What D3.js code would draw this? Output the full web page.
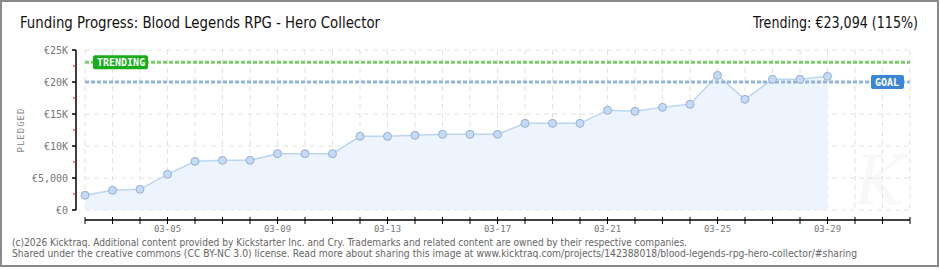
<!DOCTYPE html>
<html>
<head>
<meta charset="utf-8">
<script src="https://cdn.jsdelivr.net/npm/d3@7"></script>
<style>
  body { margin: 0; background: #fff; }
  svg { display: block; }
</style>
</head>
<body>
<div id="chart"></div>
<script>
// values
const days = ['03-02','03-03','03-04','03-05','03-06','03-07','03-08','03-09','03-10','03-11',
  '03-12','03-13','03-14','03-15','03-16','03-17','03-18','03-19','03-20','03-21',
  '03-22','03-23','03-24','03-25','03-26','03-27','03-28','03-29']
const pledged = [2300, 3080, 3230, 5570, 7600, 7760, 7760, 8800, 8800, 8800,
  11510, 11510, 11670, 11820, 11820, 11820, 13540, 13540, 13540, 15570,
  15420, 16040, 16510, 21040, 17290, 20420, 20420, 20880]
const axisDays = ['03-02','03-03','03-04','03-05','03-06','03-07','03-08','03-09','03-10','03-11',
  '03-12','03-13','03-14','03-15','03-16','03-17','03-18','03-19','03-20','03-21',
  '03-22','03-23','03-24','03-25','03-26','03-27','03-28','03-29','03-30','03-31','04-01']
const labelDays = ['03-05','03-09','03-13','03-17','03-21','03-25','03-29']
const yTicks = [0, 5000, 10000, 15000, 20000, 25000]
const yTickLabels = ['€0', '€5,000', '€10K', '€15K', '€20K', '€25K']
const goal = 20000
const trending = 23094

const W = 940, H = 270

const svg = d3.select('#chart').append('svg')
  .attr('width', W).attr('height', H)

// outer frame
svg.append('rect')
  .attr('x', 1).attr('y', 1).attr('width', 937).attr('height', 265)
  .attr('fill', '#fff').attr('stroke', '#8a8a8a').attr('stroke-width', 2)

const x = d3.scalePoint().domain(axisDays).range([85, 910])
const y = d3.scaleLinear().domain([0, 25000]).range([210, 50])

const pixFont = '"DejaVu Sans Mono", monospace'

// faint watermark
svg.append('text')
  .attr('x', 880).attr('y', 205)
  .attr('text-anchor', 'middle')
  .attr('font-family', '"DejaVu Serif", serif').attr('font-style', 'italic')
  .attr('font-size', 70).attr('fill', '#f8f8f8')
  .text('K')

// grid
const grid = svg.append('g').attr('class', 'grid')
grid.selectAll('line.h').data(yTicks).enter().append('line')
  .attr('x1', 85).attr('x2', 910)
  .attr('y1', d => y(d)).attr('y2', d => y(d))
  .attr('stroke', '#e2e2e2').attr('stroke-dasharray', '5 4')
grid.selectAll('line.v').data(axisDays).enter().append('line')
  .attr('x1', d => x(d)).attr('x2', d => x(d))
  .attr('y1', 50).attr('y2', 210)
  .attr('stroke', '#e2e2e2').attr('stroke-dasharray', '5 4')

// area + line
const pts = days.map((d, i) => [d, pledged[i]])
svg.append('path')
  .datum(pts)
  .attr('d', d3.area().x(d => x(d[0])).y0(y(0)).y1(d => y(d[1])))
  .attr('fill', '#edf4fd')
svg.append('path')
  .datum(pts)
  .attr('d', d3.line().x(d => x(d[0])).y(d => y(d[1])))
  .attr('fill', 'none').attr('stroke', '#bcd6f2').attr('stroke-width', 1.5)

// goal + trending lines
const refLine = (v, col) => svg.append('line')
  .attr('x1', 85).attr('x2', 910)
  .attr('y1', y(v)).attr('y2', y(v))
  .attr('stroke', col).attr('stroke-width', 3).attr('stroke-dasharray', '4 2')
refLine(goal, '#94b6de')
refLine(trending, '#7ccd6e')

// markers
svg.selectAll('circle.pt').data(pts).enter().append('circle')
  .attr('cx', d => x(d[0])).attr('cy', d => y(d[1])).attr('r', 4)
  .attr('fill', '#c3dbf6').attr('stroke', '#98b0cf').attr('stroke-width', 1)

// badges
const badge = (bx, v, w, col, txt) => {
  svg.append('rect')
    .attr('x', bx).attr('y', y(v) - 7).attr('width', w).attr('height', 14)
    .attr('rx', 2).attr('fill', col)
  svg.append('text')
    .attr('x', bx + 4).attr('y', y(v) + 4)
    .attr('font-family', pixFont).attr('font-size', 10).attr('font-weight', 'bold')
    .attr('fill', '#fff')
    .text(txt)
}
badge(93, trending, 55, '#19ad19', 'TRENDING')
badge(871, goal, 33, '#3b87d6', 'GOAL')

// y axis
const ya = svg.append('g')
ya.append('line').attr('x1', 76).attr('x2', 76).attr('y1', 50).attr('y2', 210)
  .attr('stroke', '#000').attr('stroke-width', 1.5)
ya.selectAll('line.maj').data(yTicks).enter().append('line')
  .attr('x1', 72).attr('x2', 76).attr('y1', d => y(d)).attr('y2', d => y(d))
  .attr('stroke', '#000').attr('stroke-width', 1.5)
ya.selectAll('line.min').data(yTicks.slice(0, -1)).enter().append('line')
  .attr('x1', 73).attr('x2', 76).attr('y1', d => y(d + 2500)).attr('y2', d => y(d + 2500))
  .attr('stroke', '#e00').attr('stroke-width', 1)
ya.selectAll('text').data(yTicks).enter().append('text')
  .attr('x', 68).attr('y', d => y(d) + 3.5)
  .attr('text-anchor', 'end')
  .attr('font-family', pixFont).attr('font-size', 10).attr('fill', '#777')
  .text((d, i) => yTickLabels[i])

svg.append('text')
  .attr('transform', 'translate(24,130) rotate(-90)')
  .attr('text-anchor', 'middle')
  .attr('font-family', pixFont).attr('font-size', 9).attr('fill', '#888')
  .attr('letter-spacing', 1)
  .text('PLEDGED')

// x axis
const xa = svg.append('g')
xa.append('line').attr('x1', 85).attr('x2', 910).attr('y1', 220).attr('y2', 220)
  .attr('stroke', '#000').attr('stroke-width', 1.5)
xa.selectAll('line.t').data(axisDays).enter().append('line')
  .attr('x1', d => x(d)).attr('x2', d => x(d)).attr('y1', 217).attr('y2', 224)
  .attr('stroke', '#000').attr('stroke-width', 1)
xa.selectAll('text').data(labelDays).enter().append('text')
  .attr('x', d => x(d)).attr('y', 232)
  .attr('text-anchor', 'middle')
  .attr('font-family', pixFont).attr('font-size', 9).attr('fill', '#777')
  .text(d => d)

// titles
svg.append('text')
  .attr('x', 20).attr('y', 28)
  .attr('font-family', '"DejaVu Sans Condensed", "DejaVu Sans", sans-serif')
  .attr('font-size', 16).attr('fill', '#111')
  .attr('textLength', 360).attr('lengthAdjust', 'spacingAndGlyphs')
  .text('Funding Progress: Blood Legends RPG - Hero Collector')
svg.append('text')
  .attr('x', 918).attr('y', 28)
  .attr('text-anchor', 'end')
  .attr('font-family', '"DejaVu Sans Condensed", "DejaVu Sans", sans-serif')
  .attr('font-size', 16).attr('fill', '#111')
  .attr('textLength', 165).attr('lengthAdjust', 'spacingAndGlyphs')
  .text('Trending: €23,094 (115%)')

// footer
const foot = [
  '(c)2026 Kicktraq. Additional content provided by Kickstarter Inc. and Cry. Trademarks and related content are owned by their respective companies.',
  'Shared under the creative commons (CC BY-NC 3.0) license. Read more about sharing this image at www.kicktraq.com/projects/142388018/blood-legends-rpg-hero-collector/#sharing'
]
svg.selectAll('text.foot').data(foot).enter().append('text')
  .attr('x', 12).attr('y', (d, i) => 246 + i * 11)
  .attr('font-family', '"DejaVu Sans", sans-serif').attr('font-size', 10).attr('fill', '#666')
  .attr('textLength', (d, i) => i === 0 ? 675 : 845).attr('lengthAdjust', 'spacingAndGlyphs')
  .text(d => d)
</script>
</body>
</html>
